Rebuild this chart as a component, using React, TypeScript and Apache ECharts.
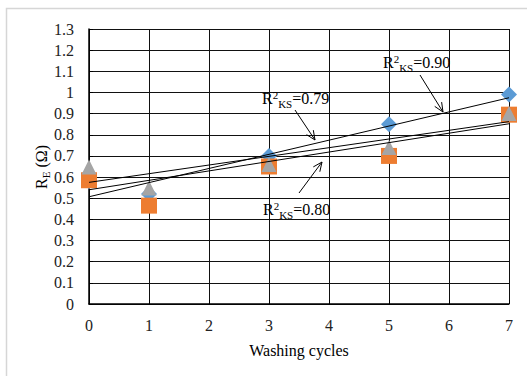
import React, { useEffect, useRef } from "react";
import * as echarts from "echarts";

const cycles = [0, 1, 3, 5, 7];
const blueValues = [0.58, 0.52, 0.70, 0.85, 0.99];
const orangeValues = [0.585, 0.465, 0.65, 0.70, 0.895];
const grayValues = [0.648, 0.548, 0.66, 0.74, 0.90];

// trendline endpoints [x, y]
const blueTrend = [[0, 0.507], [7, 0.975]];
const orangeTrend = [[0, 0.54], [7, 0.852]];
const grayTrend = [[0, 0.575], [7, 0.862]];

const xMin = 0, xMax = 7, xStep = 1;
const yMin = 0, yMax = 1.3, yStep = 0.1;

const annotations = [
  { value: "0.90", tx: 383, ty: 62, from: [420, 75], to: [443, 112] },
  { value: "0.79", tx: 262, ty: 98, from: [295, 110], to: [315, 140] },
  { value: "0.80", tx: 263, ty: 209, from: [299, 193], to: [322, 162] },
];

const FONT = "'Liberation Serif', 'Times New Roman', serif";

function arrowHead(from: number[], to: number[]) {
  const dx = from[0] - to[0];
  const dy = from[1] - to[1];
  const len = Math.sqrt(dx * dx + dy * dy);
  const ux = dx / len, uy = dy / len;
  const a = (24 * Math.PI) / 180;
  const L = 10;
  const r = (ang: number) => [
    to[0] + L * (ux * Math.cos(ang) - uy * Math.sin(ang)),
    to[1] + L * (ux * Math.sin(ang) + uy * Math.cos(ang)),
  ];
  return [r(a), to, r(-a)];
}

export default function App() {
  const ref = useRef<HTMLDivElement>(null);
  useEffect(() => {
    if (!ref.current) return;
    const chart = echarts.init(ref.current, null, { renderer: "svg" });
    const rich = {
      r: { fontSize: 16, fontFamily: FONT, color: "#000", lineHeight: 28 },
      sup: { fontSize: 11, fontFamily: FONT, color: "#000", padding: [0, 0, 6, 0] },
      sub: { fontSize: 11, fontFamily: FONT, color: "#000", padding: [12, 0, 0, 0] },
    };
    const graphics: any[] = [
      {
        type: "rect",
        shape: { x: 6.5, y: 8.5, width: 560, height: 420 },
        style: { fill: "none", stroke: "#d6d6d6", lineWidth: 1.5 },
        silent: true,
        z: 0,
      },
      {
        type: "text",
        x: 41,
        y: 167,
        rotation: Math.PI / 2,
        style: {
          text: "{r|R}{sub|E}{r| (Ω)}",
          align: "center",
          verticalAlign: "middle",
          rich: {
            r: { fontSize: 16, fontFamily: FONT, color: "#000", lineHeight: 26 },
            sub: { fontSize: 11, fontFamily: FONT, color: "#000", padding: [10, 0, 0, 0] },
          },
        },
      },
    ];
    annotations.forEach((an) => {
      graphics.push({
        type: "text",
        x: an.tx,
        y: an.ty,
        z: 10,
        style: {
          text: `{r|R}{sup|2}{sub|KS}{r|=${an.value}}`,
          align: "left",
          verticalAlign: "middle",
          rich,
        },
      });
      graphics.push({
        type: "line",
        z: 10,
        shape: { x1: an.from[0], y1: an.from[1], x2: an.to[0], y2: an.to[1] },
        style: { stroke: "#000", lineWidth: 1 },
      });
      graphics.push({
        type: "polyline",
        z: 10,
        shape: { points: arrowHead(an.from, an.to) },
        style: { stroke: "#000", lineWidth: 1, fill: "none" },
      });
    });

    const trendSeries = (d: number[][]) => ({
      type: "line",
      data: d,
      symbol: "none",
      silent: true,
      z: 5,
      lineStyle: { color: "#000", width: 1 },
    });

    chart.setOption({
      animation: false,
      backgroundColor: "#fff",
      grid: { left: 89, right: 18, top: 29, bottom: 72 },
      xAxis: {
        type: "value",
        min: xMin,
        max: xMax,
        interval: xStep,
        name: "Washing cycles",
        nameLocation: "middle",
        nameGap: 38,
        nameTextStyle: { fontFamily: FONT, fontSize: 16, color: "#000" },
        axisLine: { lineStyle: { color: "#000", width: 1.5 } },
        axisTick: { show: true, inside: true, length: 4, lineStyle: { color: "#000" } },
        axisLabel: { fontFamily: FONT, fontSize: 16, color: "#222", margin: 13 },
        splitLine: { show: true, lineStyle: { color: "#111", width: 1 } },
      },
      yAxis: {
        type: "value",
        min: yMin,
        max: yMax,
        interval: yStep,
        axisLine: { show: true, lineStyle: { color: "#000", width: 1.5 } },
        axisTick: { show: true, inside: true, length: 4, lineStyle: { color: "#000" } },
        axisLabel: { fontFamily: FONT, fontSize: 16, color: "#222", margin: 15 },
        splitLine: { show: true, lineStyle: { color: "#111", width: 1 } },
      },
      series: [
        {
          type: "scatter",
          symbol: "diamond",
          symbolSize: 16,
          itemStyle: { color: "#5B9BD5", opacity: 1 },
          data: cycles.map((c, i) => [c, blueValues[i]]),
          z: 2,
        },
        {
          type: "scatter",
          symbol: "rect",
          symbolSize: 16,
          itemStyle: { color: "#ED7D31", opacity: 1 },
          data: cycles.map((c, i) => [c, orangeValues[i]]),
          z: 3,
        },
        {
          type: "scatter",
          symbol: "triangle",
          symbolSize: [15, 15],
          itemStyle: { color: "#A5A5A5", opacity: 1 },
          data: cycles.map((c, i) => [c, grayValues[i]]),
          z: 4,
        },
        trendSeries(blueTrend),
        trendSeries(orangeTrend),
        trendSeries(grayTrend),
      ],
      graphic: graphics,
    });
    return () => chart.dispose();
  }, []);
  return (
    <div
      ref={ref}
      style={{ position: "fixed", left: 0, top: 0, width: 527, height: 376, background: "#fff" }}
    />
  );
}
